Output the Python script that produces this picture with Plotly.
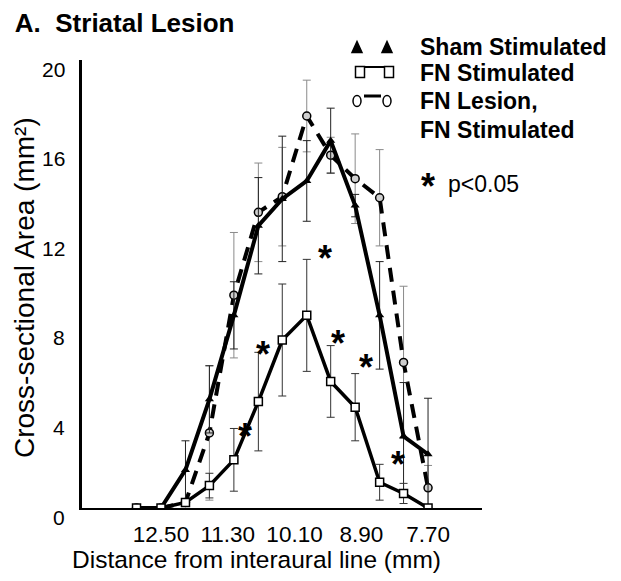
import plotly.graph_objects as go

# distance from interaural line (mm), one value per section
distance_mm = [12.94, 12.50, 12.06, 11.63, 11.19, 10.75, 10.32,
               9.88, 9.45, 9.01, 8.57, 8.14, 7.70]

sham = [0, 0, 1.7, 4.85, 8.6, 12.6, 13.8, 14.6, 16.4, 13.5, 8.6, 3.2, 2.4]
sham_err = [0, 0, 1.3, 1.5, 1.5, 2.15, 2.8, 1.8, 1.45, 0.5, 2.4, 2.4, 2.5]

fn_stim = [0, 0, 0.25, 1.0, 2.15, 4.75, 7.5, 8.6, 5.65, 4.5, 1.15, 0.65, 0]
fn_stim_err = [0, 0, 0, 0.55, 1.4, 2.2, 2.5, 2.5, 1.6, 1.5, 0.8, 0.45, 0]

lesion = [0, 0, 0.25, 3.35, 9.5, 13.2, 13.9, 17.5, 15.75, 14.7, 13.85, 6.5, 0.9]
lesion_err = [0, 0, 0, 3.0, 2.8, 2.2, 2.2, 1.6, 0.8, 2.0, 2.15, 3.4, 1.0]

# significance markers (p<0.05)
star_x = [10.99, 10.67, 9.55, 9.32, 8.81, 8.24]
star_y = [3.62, 7.28, 11.6, 7.8, 6.7, 2.37]

x_tickvals = [12.5, 11.3, 10.1, 8.9, 7.7]
x_ticktext = ["12.50", "11.30", "10.10", "8.90", "7.70"]
y_tickvals = [0, 4, 8, 12, 16, 20]
y_ticktext = ["0", "4", "8", "12", "16", "20"]

FONT = "Liberation Sans, Arial, sans-serif"

# plot area on the page (the page body adds an 8px margin)
PL, PR, PT, PB = 82, 482, 60, 508


def px(sx):
    return (sx - PL) / (PR - PL)


def py(sy):
    return (PB - sy) / (PB - PT)


fig = go.Figure()

fig.add_trace(go.Scatter(
    x=distance_mm, y=lesion, mode="lines+markers",
    line=dict(color="black", width=4, dash="14px,9px"),
    marker=dict(symbol="circle", size=8, color="#cfcfcf",
                line=dict(color="black", width=1.5)),
    error_y=dict(type="data", array=lesion_err, color="#8a8a8a",
                 thickness=1, width=4),
))
fig.add_trace(go.Scatter(
    x=distance_mm, y=sham, mode="lines+markers",
    line=dict(color="black", width=4),
    marker=dict(symbol="triangle-up", size=8, color="black"),
    error_y=dict(type="data", array=sham_err, color="#222222",
                 thickness=1, width=4),
))
fig.add_trace(go.Scatter(
    x=distance_mm, y=fn_stim, mode="lines+markers",
    line=dict(color="black", width=3.5),
    marker=dict(symbol="square", size=8, color="white",
                line=dict(color="black", width=1.5)),
    error_y=dict(type="data", array=fn_stim_err, color="#333333",
                 thickness=1, width=4),
))

annotations = []
for sx, sy in zip(star_x, star_y):
    annotations.append(dict(
        x=sx, y=sy, xref="x", yref="y", text="<b>*</b>", showarrow=False,
        xanchor="center", yanchor="middle", yshift=-10,
        font=dict(family=FONT, size=36, color="black"),
    ))

for val, txt in zip(y_tickvals, y_ticktext):
    annotations.append(dict(
        x=px(67), xref="paper", y=val, yref="y", yshift=-9,
        text=txt, showarrow=False, xanchor="right", yanchor="middle",
        font=dict(family=FONT, size=21, color="black"),
    ))

legend_rows = [("Sham Stimulated", 47), ("FN Stimulated", 73),
               ("FN Lesion,", 101), ("FN Stimulated", 130)]
for txt, sy in legend_rows:
    annotations.append(dict(
        x=px(418), xref="paper", y=py(sy), yref="paper",
        text="<b>" + txt + "</b>",
        showarrow=False, xanchor="left", yanchor="middle",
        font=dict(family=FONT, size=23, color="black"),
    ))
annotations.append(dict(
    x=px(419), xref="paper", y=py(186), yref="paper", text="<b>*</b>",
    showarrow=False, xanchor="left", yanchor="middle",
    font=dict(family=FONT, size=36, color="black"),
))
annotations.append(dict(
    x=px(446), xref="paper", y=py(184), yref="paper", text="p<0.05",
    showarrow=False, xanchor="left", yanchor="middle",
    font=dict(family=FONT, size=23, color="black"),
))
annotations.append(dict(
    x=px(256), xref="paper", y=py(559), yref="paper",
    text="Distance from interaural line (mm)", showarrow=False,
    xanchor="center", yanchor="middle",
    font=dict(family=FONT, size=24.5, color="black"),
))
annotations.append(dict(
    x=px(24), xref="paper", y=py(288), yref="paper",
    text="Cross-sectional Area (mm²)", showarrow=False,
    textangle=-90, xanchor="center", yanchor="middle",
    font=dict(family=FONT, size=28, color="black"),
))

# legend keys (two symbols joined by a short line)
shapes = []


def key(kind, sx, sy, w, h, fill):
    base = dict(xref="paper", yref="paper", xsizemode="pixel",
                ysizemode="pixel", xanchor=px(sx), yanchor=py(sy),
                fillcolor=fill, line=dict(color="black", width=1.5))
    if kind == "triangle":
        base.update(type="path",
                    path=f"M{-w / 2},{-h / 2} L{w / 2},{-h / 2} L0,{h / 2} Z")
    else:
        base.update(type=kind, x0=-w / 2, x1=w / 2, y0=-h / 2, y1=h / 2)
    return base


def key_line(sx0, sx1, sy, width):
    return dict(type="line", xref="paper", yref="paper",
                x0=px(sx0), x1=px(sx1), y0=py(sy), y1=py(sy),
                line=dict(color="black", width=width))


shapes.append(key_line(362, 387, 67, 2))
shapes.append(key_line(364, 381, 96, 3))
for sx in (357, 387):
    shapes.append(key("triangle", sx, 47, 10, 11, "black"))
    shapes.append(key("circle", sx, 101, 8, 11, "white"))
for sx in (360, 389):
    shapes.append(key("rect", sx, 72, 9, 11, "white"))

fig.update_layout(
    width=621, height=581,
    margin=dict(l=PL - 8, r=621 - PR + 8, t=PT - 8, b=581 - PB + 8),
    paper_bgcolor="white", plot_bgcolor="white",
    showlegend=False,
    title=dict(text="<b>A.  Striatal Lesion</b>", xref="container", x=0.011,
               xanchor="left", y=0.974, yanchor="middle",
               font=dict(family=FONT, size=26, color="black")),
    xaxis=dict(range=[13.92, 6.73], tickvals=x_tickvals, ticktext=x_ticktext,
               showgrid=False, zeroline=False, showline=True,
               linecolor="black", linewidth=1.5, ticks="",
               ticklabelstandoff=5,
               tickfont=dict(family=FONT, size=22.5, color="black")),
    yaxis=dict(range=[0, 20], showticklabels=False, showgrid=False,
               zeroline=False, showline=True, linecolor="black",
               linewidth=2.5, ticks=""),
    annotations=annotations,
    shapes=shapes,
)

fig.write_html("out.html")
